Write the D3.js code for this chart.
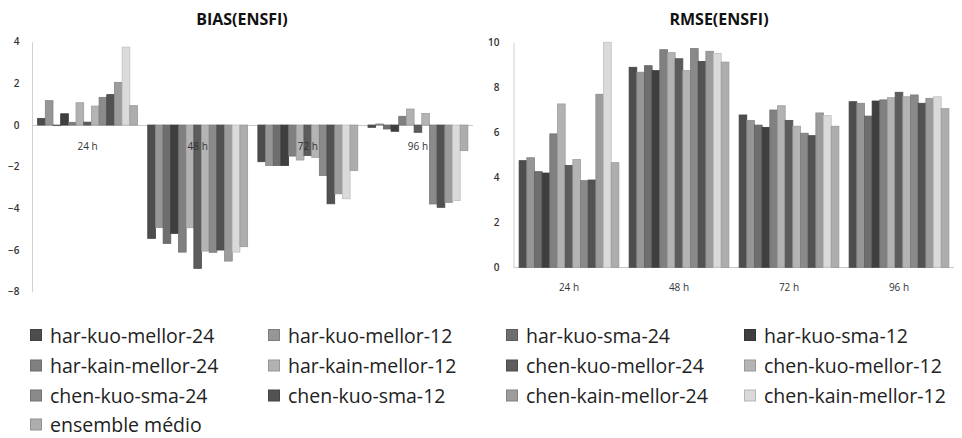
<!DOCTYPE html>
<html>
<head>
<meta charset="utf-8">
<script src="https://cdn.jsdelivr.net/npm/d3@7"></script>
<style>
  html, body { margin: 0; padding: 0; background: #fff; }
  svg { display: block; }
</style>
</head>
<body>
<svg id="chart" width="962" height="438"></svg>
<script>
// ---------- DATA ----------
const categories = ["24 h", "48 h", "72 h", "96 h"];
const seriesNames = [
  "har-kuo-mellor-24", "har-kuo-mellor-12", "har-kuo-sma-24", "har-kuo-sma-12",
  "har-kain-mellor-24", "har-kain-mellor-12", "chen-kuo-mellor-24", "chen-kuo-mellor-12",
  "chen-kuo-sma-24", "chen-kuo-sma-12", "chen-kain-mellor-24", "chen-kain-mellor-12",
  "ensemble médio"
];
// BIAS per forecast time (one value per series, in seriesNames order)
const bias24 = [0.32, 1.17, -0.03, 0.54, 0.13, 1.07, 0.14, 0.91, 1.33, 1.46, 2.05, 3.74, 0.93];
const bias48 = [-5.44, -4.91, -5.68, -5.20, -6.10, -4.93, -6.88, -6.05, -6.11, -6.00, -6.53, -6.10, -5.84];
const bias72 = [-1.76, -1.94, -1.94, -1.94, -1.49, -1.68, -1.46, -1.55, -2.42, -3.78, -3.30, -3.54, -2.18];
const bias96 = [-0.11, 0.05, -0.19, -0.30, 0.42, 0.77, -0.35, 0.56, -3.79, -3.95, -3.71, -3.63, -1.23];
// RMSE per forecast time
const rmse24 = [4.74, 4.87, 4.25, 4.19, 5.93, 7.26, 4.53, 4.79, 3.85, 3.88, 7.69, 10.0, 4.65];
const rmse48 = [8.89, 8.67, 8.96, 8.74, 9.67, 9.54, 9.27, 8.74, 9.72, 9.15, 9.60, 9.51, 9.12];
const rmse72 = [6.77, 6.52, 6.32, 6.22, 6.99, 7.18, 6.53, 6.27, 5.96, 5.85, 6.86, 6.74, 6.27];
const rmse96 = [7.36, 7.29, 6.72, 7.39, 7.44, 7.54, 7.78, 7.58, 7.66, 7.29, 7.51, 7.58, 7.05];
const biasTicks = [4, 2, 0, -2, -4, -6, -8];
const rmseTicks = [0, 2, 4, 6, 8, 10];

// ---------- STYLE ----------
const colors = ["#4d4d4d", "#969696", "#6e6e6e", "#3f3f3f", "#808080", "#b2b2b2", "#5c5c5c",
                "#b4b4b4", "#8a8a8a", "#525252", "#9c9c9c", "#dadada", "#adadad"];
const FONT = "'Open Sans', 'Liberation Sans', sans-serif";

const svg = d3.select("#chart");

function drawPanel(opts) {
  const { title, titleX, xRange, yRange, yDomain, ticks, rows, labelY, tickX } = opts;
  const g = svg.append("g");
  const x0 = d3.scaleBand().domain(categories).range(xRange).paddingInner(0.093).paddingOuter(0.0465);
  const x1 = d3.scaleBand().domain(d3.range(seriesNames.length)).range([0, x0.bandwidth()]);
  const y = d3.scaleLinear().domain(yDomain).range(yRange);

  // y axis
  const yAxis = d3.axisLeft(y).tickValues(ticks).tickSize(0).tickPadding(0).tickFormat(d3.format("d"));
  const ya = g.append("g").attr("transform", `translate(${xRange[0] - 0.5},0)`).call(yAxis);
  ya.select(".domain").attr("stroke", "#d0d0d0").attr("stroke-width", 1);
  ya.selectAll("text")
    .attr("x", tickX - xRange[0])
    .attr("font-family", FONT).attr("font-size", 10).attr("fill", "#333").attr("font-weight", 600);

  // zero baseline
  g.append("line")
    .attr("x1", xRange[0]).attr("x2", xRange[1])
    .attr("y1", Math.round(y(0)) + 0.5).attr("y2", Math.round(y(0)) + 0.5)
    .attr("stroke", "#c8c8c8").attr("stroke-width", 1);

  // bars
  const groups = g.selectAll("g.grp").data(categories).join("g")
    .attr("class", "grp")
    .attr("transform", d => `translate(${x0(d)},0)`);
  groups.selectAll("rect").data((d, i) => rows[i].map((v, j) => ({ v, j })))
    .join("rect")
    .attr("x", d => x1(d.j))
    .attr("width", x1.bandwidth())
    .attr("y", d => Math.min(y(0), y(d.v)))
    .attr("height", d => Math.abs(y(d.v) - y(0)))
    .attr("fill", d => colors[d.j])
    .attr("stroke", d => d3.color(colors[d.j]).darker(0.35))
    .attr("stroke-width", 0.8);

  // category labels (on top of bars)
  g.selectAll("text.cat").data(categories).join("text")
    .attr("class", "cat")
    .attr("x", d => x0(d) + x0.bandwidth() / 2)
    .attr("y", labelY)
    .attr("text-anchor", "middle")
    .attr("dominant-baseline", "central")
    .attr("font-family", FONT).attr("font-size", 10).attr("fill", "#333")
    .text(d => d);

  // title
  svg.append("text")
    .attr("x", titleX).attr("y", 19)
    .attr("text-anchor", "middle").attr("dominant-baseline", "central")
    .attr("font-family", FONT).attr("font-size", 16).attr("font-weight", 700).attr("fill", "#111")
    .text(title);
}

drawPanel({
  title: "BIAS(ENSFI)", titleX: 242,
  xRange: [32.5, 473], yRange: [291.7, 41.7], yDomain: [-8, 4],
  ticks: biasTicks, rows: [bias24, bias48, bias72, bias96], labelY: 146, tickX: 20
});
drawPanel({
  title: "RMSE(ENSFI)", titleX: 719,
  xRange: [514, 954], yRange: [267.3, 42.3], yDomain: [0, 10],
  ticks: rmseTicks, rows: [rmse24, rmse48, rmse72, rmse96], labelY: 287, tickX: 500
});

// legend
const legend = svg.append("g");
const colX = [30, 268, 506, 744];
const rowY = [335, 365.5, 395.5, 424.5];
seriesNames.forEach((name, i) => {
  const cx = colX[i % 4], cy = rowY[Math.floor(i / 4)];
  legend.append("rect")
    .attr("x", cx + 0.5).attr("y", cy - 5.5).attr("width", 11).attr("height", 11)
    .attr("fill", colors[i]).attr("stroke", d3.color(colors[i]).darker(0.5)).attr("stroke-width", 1);
  legend.append("text")
    .attr("x", cx + 20).attr("y", cy)
    .attr("dominant-baseline", "central")
    .attr("font-family", FONT).attr("font-size", 19.5).attr("fill", "#222")
    .text(name);
});
</script>
</body>
</html>
